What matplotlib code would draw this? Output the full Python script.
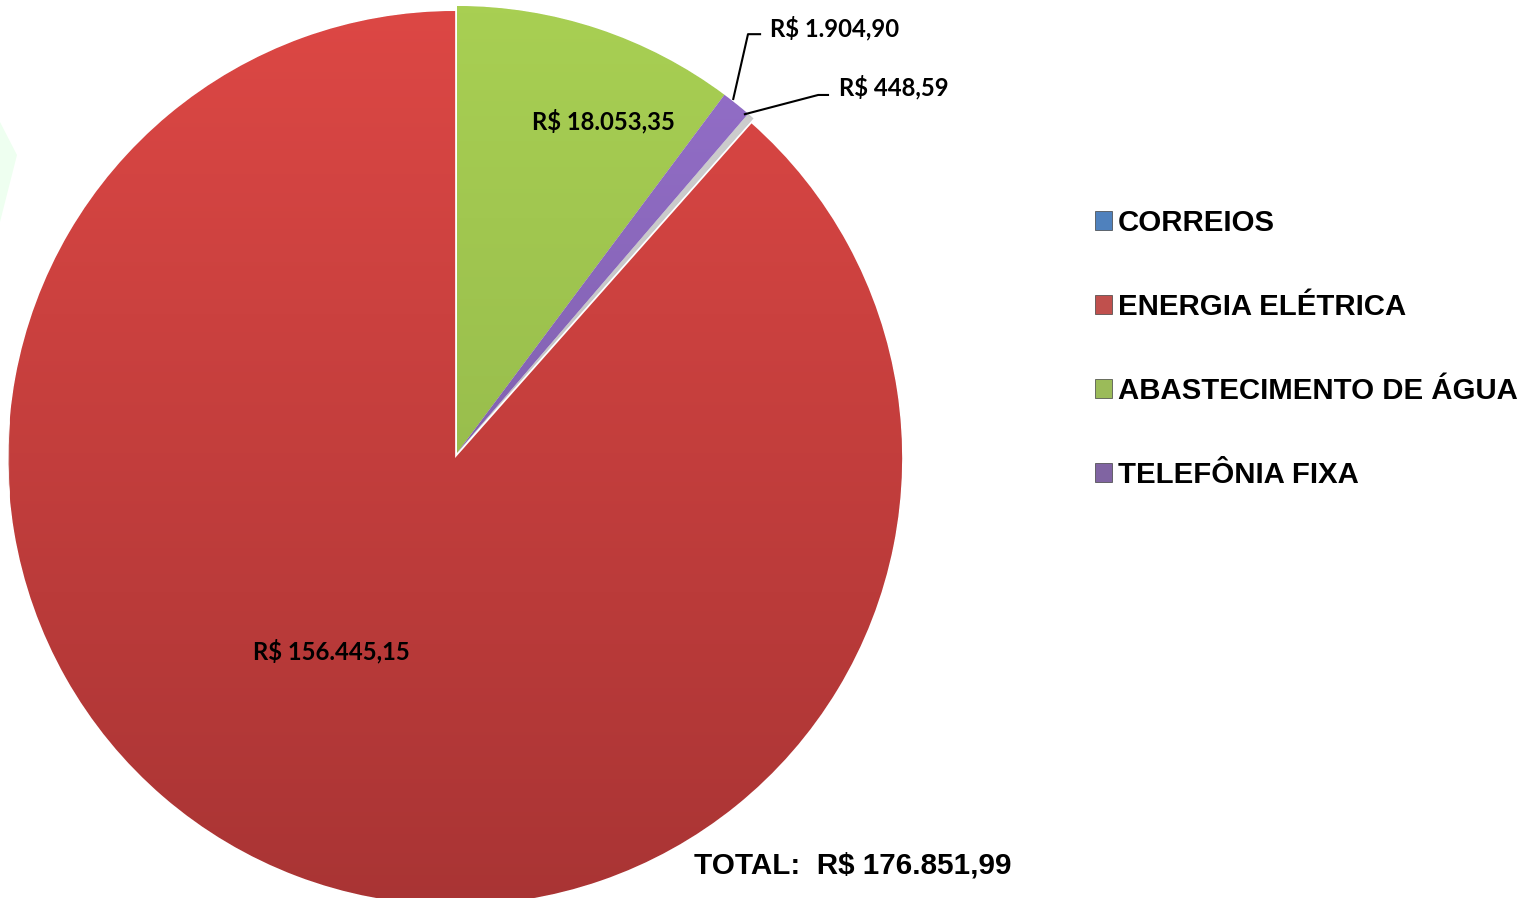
import numpy as np
import matplotlib.pyplot as plt
from matplotlib.colors import LinearSegmentedColormap
from matplotlib.patches import Polygon

categorias = ['CORREIOS', 'ENERGIA ELÉTRICA', 'ABASTECIMENTO DE ÁGUA', 'TELEFÔNIA FIXA']
valores = [448.59, 156445.15, 18053.35, 1904.90]
rotulos = ['R$ 448,59', 'R$ 156.445,15', 'R$ 18.053,35', 'R$ 1.904,90']
total = 'TOTAL:  R$ 176.851,99'

cores = ['#4F81BD', '#C0504D', '#9BBB59', '#8064A2']
# degrade das fatias (correios fica acinzentado no original por causa do bisel)
topo = ['#D0D0D0', '#DE4845', '#A9D053', '#9670CC']
base = ['#B8B8B8', '#A83434', '#89AC47', '#6E5496']

fig = plt.figure(figsize=(15.29, 8.98), dpi=100)

# mancha verde clara na borda esquerda
fig.patches.append(Polygon([[0, 1 - 122 / 898], [17 / 1529, 1 - 155 / 898], [0, 1 - 222 / 898]],
                           closed=True, transform=fig.transFigure, facecolor='#EEFFF0',
                           edgecolor='none', zorder=0))

ax = fig.add_axes([0.00654, -0.0022, 0.5847, 0.9955])

# primeira fatia (correios) começa logo depois de agua + telefonia, sentido horario
inicio = 90 - (valores[2] + valores[3]) / sum(valores) * 360
wedges, _ = ax.pie(valores, colors=cores, startangle=inicio, counterclock=False,
                   explode=[0, 0.012, 0, 0], radius=1.0,
                   wedgeprops=dict(linewidth=0.6, edgecolor='white'))

grad = np.linspace(0, 1, 256).reshape(-1, 1)
for w, c1, c2 in zip(wedges, topo, base):
    cmap = LinearSegmentedColormap.from_list('g', [c1, c2])
    im = ax.imshow(grad, cmap=cmap, extent=[-1.05, 1.05, -1.05, 1.05],
                   aspect='auto', zorder=w.get_zorder() + 0.1)
    im.set_clip_path(w)

ax.set_xlim(-1.0, 1.0)
ax.set_ylim(-1.0, 1.0)
ax.set_aspect('auto')
ax.axis('off')

lab_font = dict(family=['Lato', 'DejaVu Sans'], fontweight='bold', fontsize=17.2, color='black')

# rotulos dentro das fatias grandes
ax.text(0.327, 0.742, rotulos[2], ha='center', va='center', zorder=10, **lab_font)
ax.text(-0.280, -0.443, rotulos[1], ha='center', va='center', zorder=10, **lab_font)

# rotulos externos com linhas de chamada
ax.plot([0.618, 0.651, 0.678], [0.792, 0.937, 0.937], color='black', lw=1.5, zorder=10)
ax.text(0.700, 0.951, rotulos[3], ha='left', va='center', zorder=10, **lab_font)
ax.plot([0.644, 0.808, 0.830], [0.758, 0.801, 0.801], color='black', lw=1.5, zorder=10)
ax.text(0.855, 0.818, rotulos[0], ha='left', va='center', zorder=10, **lab_font)

leg = ax.legend(wedges, categorias, loc='upper left', bbox_to_anchor=(1.200, 0.786),
                bbox_transform=ax.transAxes, frameon=False,
                prop=dict(family='Liberation Sans', weight='bold', size=21.2),
                handlelength=0.6, handleheight=0.6, handletextpad=0.18,
                labelspacing=1.9, borderaxespad=0)
for h in leg.legend_handles:
    h.set_edgecolor('#404040')
    h.set_linewidth(0.5)

fig.text(694 / 1529, 1 - 866 / 898, total, ha='left', va='center',
         fontfamily='Liberation Sans', fontweight='bold', fontsize=21.3)

fig.savefig('out.png', dpi=100)
